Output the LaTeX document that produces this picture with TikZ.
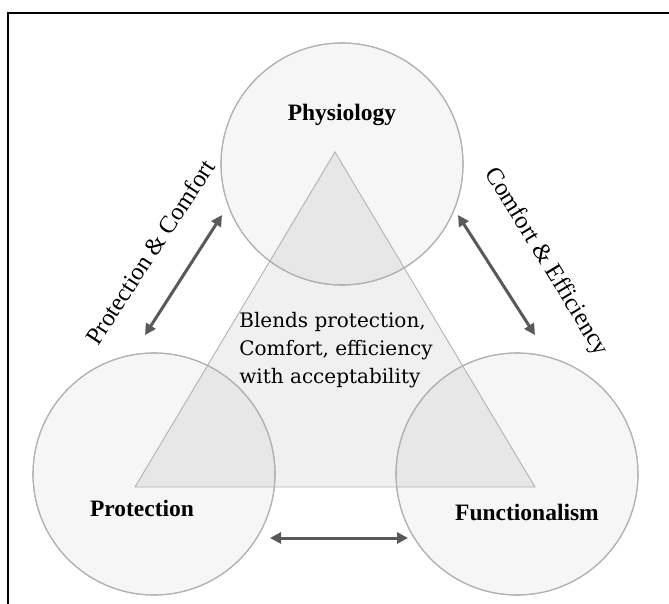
\documentclass[tikz,border=0pt]{standalone}
\usepackage{fontspec}
\setmainfont{Liberation Serif}
\newfontfamily\blendfont{DejaVu Serif}
\usetikzlibrary{arrows.meta}

\tikzset{
  bubble/.style={circle, minimum size=242pt, inner sep=0pt, fill=gray!7, draw=gray!60, line width=1.1pt},
  ring/.style={circle, minimum size=242pt, inner sep=0pt, draw=gray!60, line width=1.1pt},
  title/.style={font=\fontsize{23.5}{26}\selectfont\bfseries},
  side/.style={font=\fontsize{24.5}{27}\selectfont},
  link/.style={{Triangle[length=11pt,width=11pt]}-{Triangle[length=11pt,width=11pt]}, draw=black!65, line width=3pt}
}

\begin{document}
\begin{tikzpicture}[x=1pt, y=-1pt]
	\useasboundingbox (0,0) rectangle (669,604) ;
	\draw [line width=1.4pt] (8,604) -- (8,13) -- (669,13) ;

	% the three circles
	\draw (342,164) node[bubble] (physio) {} ;
	\draw (154,474) node[bubble] (protect) {} ;
	\draw (517,474) node[bubble] (funct) {} ;

	% triangle
	\coordinate (top) at (335,152) ;
	\coordinate (left) at (135,487) ;
	\coordinate (right) at (535,487) ;
	\draw [draw=gray!60, line width=0.9pt, fill=black, fill opacity=0.06] (top) -- (left) -- (right) -- cycle ;

	\draw (342,164) node[ring] (physioring) {} ;
	\draw (154,474) node[ring] (protectring) {} ;
	\draw (517,474) node[ring] (functring) {} ;

	\draw (342,115) node[title] (physiolabel) {Physiology} ;
	\draw (142,508) node[title] (protectlabel) {Protection} ;
	\draw (527,512) node[title] (functlabel) {Functionalism} ;

	\draw (336,350) node[align=left, font=\blendfont\fontsize{20}{28}\selectfont] (blend)
		{Blends protection,\\Comfort, efficiency\\with acceptability} ;

	% arrows between circles
	\coordinate (pc1) at (145,335) ;
	\coordinate (pc2) at (222,215) ;
	\coordinate (ce1) at (458,215) ;
	\coordinate (ce2) at (535,335) ;
	\coordinate (pf1) at (270,538) ;
	\coordinate (pf2) at (408,538) ;
	\draw [link] (pc1) -- (pc2) ;
	\draw [link] (ce1) -- (ce2) ;
	\draw [link] (pf1) -- (pf2) ;

	\draw (150,252) node[side, rotate=56.7] (pclabel) {Protection \& Comfort} ;
	\draw (546,262) node[side, rotate=-58.5] (celabel) {Comfort \& Efficiency} ;
\end{tikzpicture}
\end{document}
